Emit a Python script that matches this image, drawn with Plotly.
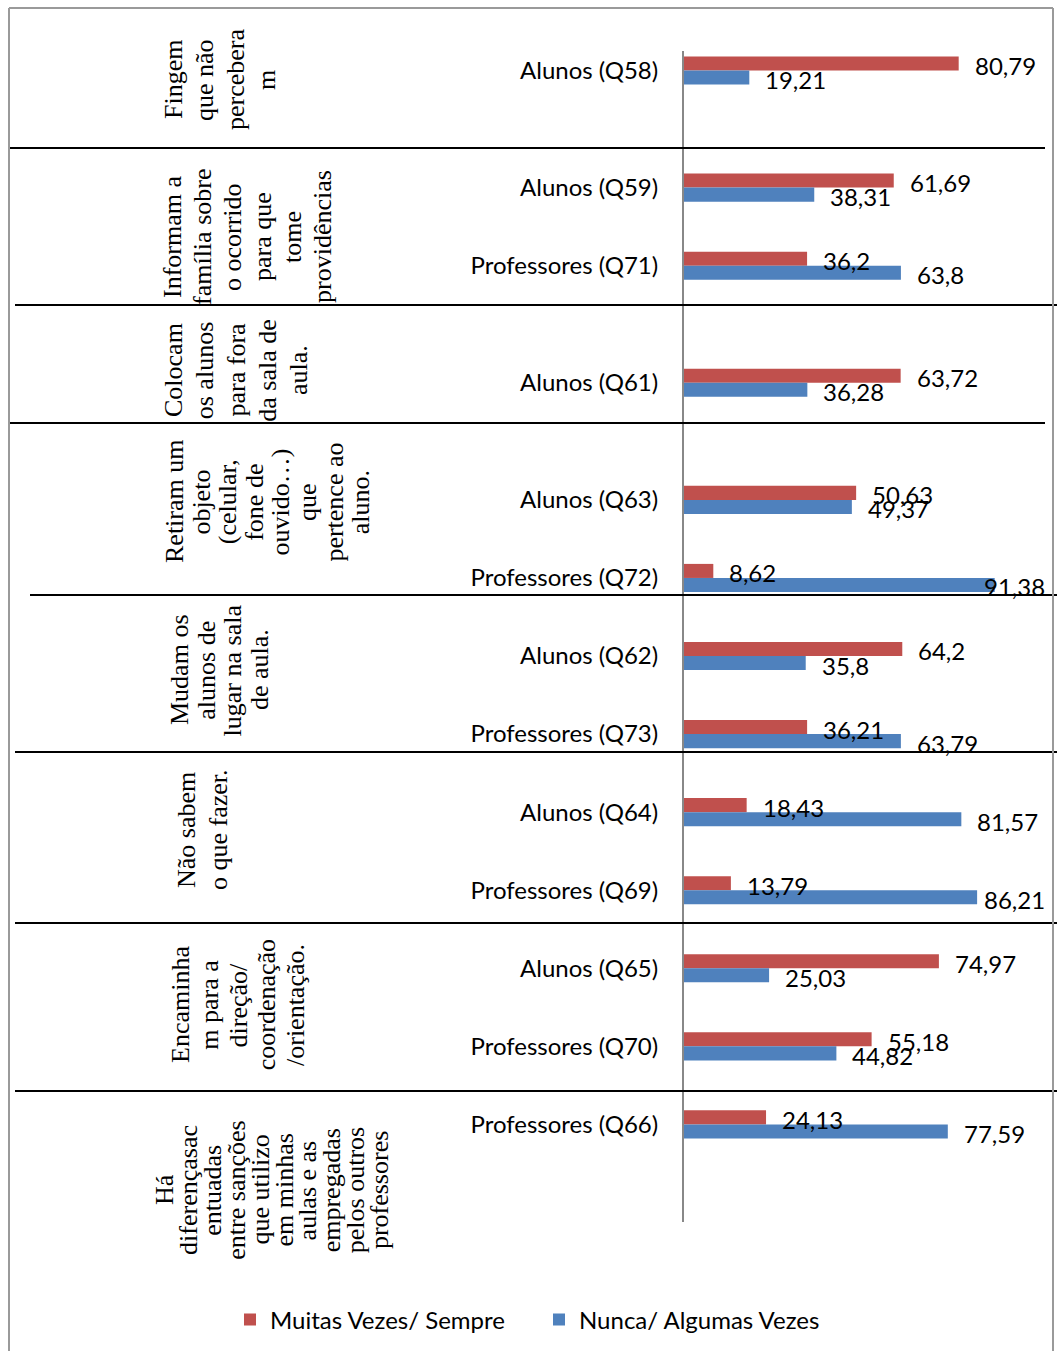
import plotly.graph_objects as go

# ---- data -------------------------------------------------------------
categories = [
    "Alunos (Q58)", "Alunos (Q59)", "Professores (Q71)", "Alunos (Q61)",
    "Alunos (Q63)", "Professores (Q72)", "Alunos (Q62)", "Professores (Q73)",
    "Alunos (Q64)", "Professores (Q69)", "Alunos (Q65)", "Professores (Q70)",
    "Professores (Q66)",
]
muitas_vezes = [80.79, 61.69, 36.2, 63.72, 50.63, 8.62, 64.2, 36.21,
                18.43, 13.79, 74.97, 55.18, 24.13]
nunca = [19.21, 38.31, 63.8, 36.28, 49.37, 91.38, 35.8, 63.79,
         81.57, 86.21, 25.03, 44.82, 77.59]
series_names = ["Muitas Vezes/ Sempre", "Nunca/ Algumas Vezes"]

# group captions (one entry per printed line)
group_lines = [
    ["Fingem", "que não", "percebera", "m"],
    ["Informam a", "família sobre", "o ocorrido", "para que", "tome", "providências"],
    ["Colocam", "os alunos", "para fora", "da sala de", "aula."],
    ["Retiram um", "objeto", "(celular,", "fone de", "ouvido…)", "que",
     "pertence ao", "aluno."],
    ["Mudam os", "alunos de", "lugar na sala", "de aula."],
    ["Não sabem", "o que fazer."],
    ["Encaminha", "m para a", "direção/", "coordenação", "/orientação."],
    ["Há", "diferençasac", "entuadas", "entre sanções", "que utilizo",
     "em minhas", "aulas e as", "empregadas", "pelos outros", "professores"],
]

# ---- layout ----------------------------------------------------------
W, H = 1057, 1351
L, R, T, B = 684, 33, 51, 129
PW, PH = W - L - R, H - T - B

# row slot of each category on the value axis (blank slots separate groups)
row_slots = [0, 3, 5, 8, 11, 13, 15, 17, 19, 21, 23, 25, 27]
N_SLOTS = 30
BAR = 0.36
LABEL_EDGE = 1047   # value labels are kept left of this pixel column
CHAR_W = 12.3       # approx. width of one label character at size 24

RED = "#C0504D"
BLUE = "#4F81BD"
SANS = "Lato, Carlito, Calibri, sans-serif"
SERIF = "Liberation Serif, Times New Roman, serif"


def px_x(p):
    return (p - L) / PW


def px_y(p):
    return 1 - (p - T) / PH


def fmt(v):
    return f"{v:g}".replace(".", ",")


fig = go.Figure()
fig.add_trace(go.Bar(
    x=muitas_vezes, y=row_slots, orientation="h", name=series_names[0],
    marker=dict(color=RED, line=dict(width=0)), width=BAR, offset=-BAR,
    legend="legend",
))
fig.add_trace(go.Bar(
    x=nunca, y=row_slots, orientation="h", name=series_names[1],
    marker=dict(color=BLUE, line=dict(width=0)), width=BAR, offset=0,
    legend="legend2",
))

annotations = []
# value labels next to each bar end (pulled back inside the frame if needed)
for vals, dy in ((muitas_vezes, -BAR / 2), (nunca, BAR / 2)):
    for v, s in zip(vals, row_slots):
        txt = fmt(v)
        end_px = L + v * PW / 100 + 14 + len(txt) * CHAR_W
        lab = dict(y=s + dy, yref="y", text=txt, showarrow=False,
                   yanchor="middle", yshift=-2,
                   font=dict(family=SANS, size=24, color="black"))
        if end_px > LABEL_EDGE:
            lab.update(x=px_x(LABEL_EDGE), xref="paper", xanchor="right")
        else:
            lab.update(x=v, xref="x", xanchor="left", xshift=14)
        annotations.append(lab)

# rotated group captions: (first baseline px, line pitch px, centre y px)
caption_geom = [
    (182, 31.0, 80), (182, 30.0, 237), (183, 31.25, 370), (183, 26.6, 502),
    (188, 26.7, 670), (195, 32.0, 830), (189, 28.75, 1005), (173, 23.9, 1190),
]
for lines, (b0, pitch, cy) in zip(group_lines, caption_geom):
    for k, line in enumerate(lines):
        cx = b0 + k * pitch - 9
        annotations.append(dict(
            x=px_x(cx), y=px_y(cy), xref="paper", yref="paper", text=line,
            showarrow=False, textangle=-90, xanchor="center", yanchor="middle",
            font=dict(family=SERIF, size=26, color="black"),
        ))

shapes = []
# table rules between the groups
rules = [(148, 8, 1045), (305, 15, 1057), (423, 8, 1045), (595, 30, 1057),
         (752, 15, 1057), (923, 15, 1057), (1091, 15, 1057)]
for yp, x0, x1 in rules:
    shapes.append(dict(type="line", xref="paper", yref="paper",
                       x0=px_x(x0), x1=px_x(x1), y0=px_y(yp), y1=px_y(yp),
                       line=dict(color="black", width=2)))
# outer frame (left, top, right)
frame = [(9, 8, 9, 1360), (9, 8, 1053, 8), (1053, 8, 1053, 1360)]
for x0, y0, x1, y1 in frame:
    shapes.append(dict(type="line", xref="paper", yref="paper",
                       x0=px_x(x0), x1=px_x(x1), y0=px_y(y0), y1=px_y(y1),
                       line=dict(color="#9a9a9a", width=2)))

legend_style = dict(orientation="h", yanchor="middle", xanchor="left",
                    font=dict(family=SANS, size=24, color="black"),
                    bgcolor="rgba(0,0,0,0)", itemclick=False,
                    itemdoubleclick=False)

fig.update_layout(
    width=W, height=H,
    margin=dict(l=L, r=R, t=T, b=B, pad=0, autoexpand=False),
    paper_bgcolor="white", plot_bgcolor="white",
    barmode="overlay",
    showlegend=True,
    legend=dict(x=px_x(230), y=px_y(1320), **legend_style),
    legend2=dict(x=px_x(539), y=px_y(1320), **legend_style),
    xaxis=dict(range=[0, 100], visible=False, fixedrange=True),
    yaxis=dict(range=[N_SLOTS - 0.5, -0.5], tickmode="array",
               tickvals=row_slots, ticktext=categories,
               showline=True, linecolor="#888888", linewidth=2,
               ticks="outside", ticklen=19, tickcolor="rgba(0,0,0,0)",
               showgrid=False, zeroline=False,
               tickfont=dict(family=SANS, size=24, color="black")),
    annotations=annotations,
    shapes=shapes,
)

fig.write_html("out.html")
